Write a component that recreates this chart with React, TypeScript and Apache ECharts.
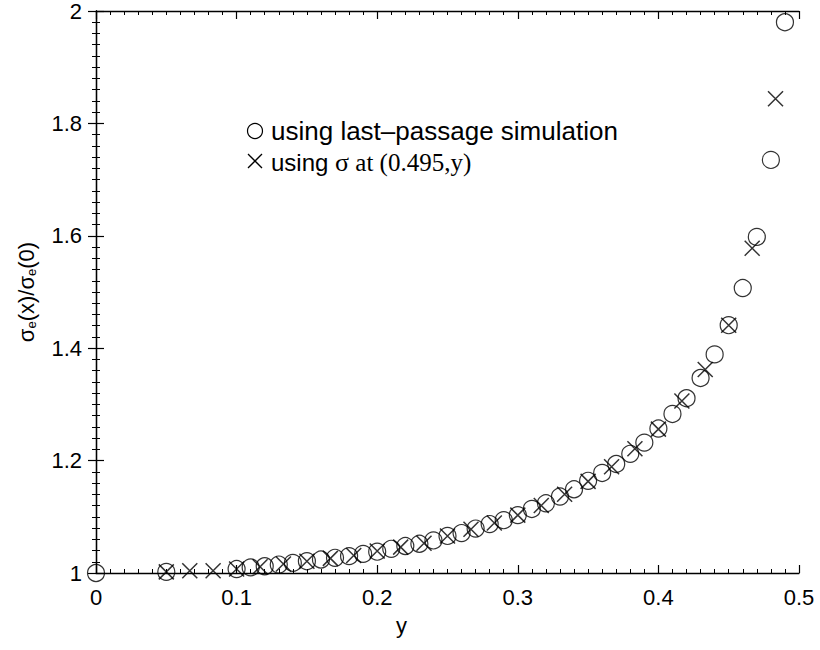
import React, { useEffect, useRef } from "react";
import * as echarts from "echarts";

const circleX = [0, 0.05, 0.1, 0.11, 0.12, 0.13, 0.14, 0.15, 0.16, 0.17, 0.18, 0.19, 0.2, 0.21, 0.22, 0.23, 0.24, 0.25, 0.26, 0.27, 0.28, 0.29, 0.3, 0.31, 0.32, 0.33, 0.34, 0.35, 0.36, 0.37, 0.38, 0.39, 0.4, 0.41, 0.42, 0.43, 0.44, 0.45, 0.46, 0.47, 0.48, 0.49];
const circleY = [1.0, 1.002, 1.007, 1.01, 1.012, 1.015, 1.018, 1.021, 1.024, 1.027, 1.03, 1.034, 1.038, 1.043, 1.048, 1.052, 1.058, 1.066, 1.071, 1.079, 1.087, 1.094, 1.103, 1.114, 1.124, 1.136, 1.149, 1.164, 1.178, 1.194, 1.212, 1.232, 1.257, 1.283, 1.311, 1.347, 1.389, 1.441, 1.507, 1.598, 1.735, 1.98];

const crossX = [0.05, 0.0667, 0.0833, 0.1, 0.1167, 0.1333, 0.15, 0.1667, 0.1833, 0.2, 0.2167, 0.2333, 0.25, 0.2667, 0.2833, 0.3, 0.3167, 0.3333, 0.35, 0.3667, 0.3833, 0.4, 0.4167, 0.4333, 0.45, 0.4667, 0.4833];
const crossY = [1.002, 1.004, 1.004, 1.007, 1.011, 1.016, 1.021, 1.026, 1.031, 1.039, 1.046, 1.053, 1.066, 1.078, 1.089, 1.103, 1.12, 1.14, 1.163, 1.189, 1.221, 1.256, 1.306, 1.362, 1.441, 1.578, 1.844];

const xTicks = { min: 0, max: 0.5, interval: 0.1 };
const yTicks = { min: 1, max: 2, interval: 0.2 };

const legendLabels = ["using last\u2013passage simulation", "using ", "\u03c3", " at (0.495,y)"];

const SANS = "'Liberation Sans', Arial, Helvetica, sans-serif";
const SERIF = "'Liberation Serif', 'Times New Roman', serif";

export default function App() {
  const ref = useRef<HTMLDivElement>(null);
  useEffect(() => {
    if (!ref.current) return;
    const chart = echarts.init(ref.current, null, { renderer: "svg" });
    const axisCommon = (show: boolean) => ({
      axisLine: { show: true, lineStyle: { color: "#000", width: 1.3 } },
      axisTick: { show: true, inside: true, length: 8, lineStyle: { color: "#000", width: 1.2 } },
      minorTick: { show: true, splitNumber: 10, length: 4, lineStyle: { color: "#000", width: 1 } },
      splitLine: { show: false },
      minorSplitLine: { show: false },
      axisLabel: show
        ? { show: true, color: "#000", fontFamily: SANS, fontSize: 22 }
        : { show: false },
    });
    chart.setOption({
      animation: false,
      backgroundColor: "#fff",
      grid: { left: 96, right: 21, top: 8, bottom: 77, containLabel: false },
      xAxis: [
        {
          type: "value",
          position: "bottom",
          ...xTicks,
          ...axisCommon(true),
          axisLabel: { show: true, color: "#000", fontFamily: SANS, fontSize: 22, margin: 13 },
        },
        { type: "value", position: "top", ...xTicks, ...axisCommon(false) },
      ],
      yAxis: [
        {
          type: "value",
          position: "left",
          ...yTicks,
          ...axisCommon(true),
          axisLabel: { show: true, color: "#000", fontFamily: SANS, fontSize: 22, margin: 14 },
        },
        { type: "value", position: "right", ...yTicks, ...axisCommon(false) },
      ],
      series: [
        {
          type: "scatter",
          xAxisIndex: 0,
          yAxisIndex: 0,
          symbol: "circle",
          symbolSize: 17,
          itemStyle: { color: "rgba(0,0,0,0)", borderColor: "#000", borderWidth: 1.2 },
          data: circleX.map((x, i) => [x, circleY[i]]),
          z: 3,
        },
        {
          type: "scatter",
          xAxisIndex: 0,
          yAxisIndex: 0,
          symbol: "path://M0,0L10,10M10,0L0,10",
          symbolSize: 15,
          itemStyle: { color: "rgba(0,0,0,0)", borderColor: "#000", borderWidth: 1.5 },
          data: crossX.map((x, i) => [x, crossY[i]]),
          z: 4,
        },
      ],
      graphic: [
        {
          type: "text",
          left: 396,
          top: 614,
          style: { text: "y", fill: "#000", font: `22px ${SANS}` },
        },
        {
          type: "text",
          x: 26,
          y: 292,
          rotation: Math.PI / 2,
          style: {
            text: "{a|\u03c3}{s|e}{a|(x)/\u03c3}{s|e}{a|(0)}",
            align: "center",
            verticalAlign: "middle",
            rich: {
              a: { fontFamily: SANS, fontSize: 22, fill: "#000", verticalAlign: "middle" },
              s: { fontFamily: SANS, fontSize: 13, fill: "#000", verticalAlign: "bottom", padding: [10, 0, 0, 0] },
            },
          },
        },
        {
          type: "circle",
          shape: { cx: 255, cy: 131, r: 7.5 },
          style: { fill: "none", stroke: "#000", lineWidth: 1.2 },
        },
        {
          type: "text",
          x: 271,
          y: 131,
          style: { text: legendLabels[0], fill: "#000", font: `26px ${SANS}`, verticalAlign: "middle" },
        },
        {
          type: "line",
          shape: { x1: 248, y1: 154, x2: 262, y2: 168 },
          style: { stroke: "#000", lineWidth: 1.3 },
        },
        {
          type: "line",
          shape: { x1: 262, y1: 154, x2: 248, y2: 168 },
          style: { stroke: "#000", lineWidth: 1.3 },
        },
        {
          type: "text",
          x: 271,
          y: 162,
          style: {
            text: `{a|${legendLabels[1]}}{b|${legendLabels[2]}}{c|${legendLabels[3]}}`,
            verticalAlign: "middle",
            rich: {
              a: { fontFamily: SANS, fontSize: 24, fill: "#000" },
              b: { fontFamily: SERIF, fontSize: 26, fill: "#000" },
              c: { fontFamily: SERIF, fontSize: 25, fill: "#000" },
            },
          },
        },
      ],
    });
    return () => chart.dispose();
  }, []);
  return (
    <div
      ref={ref}
      style={{ position: "fixed", left: 0, top: 0, width: 820, height: 650, background: "#fff" }}
    />
  );
}
